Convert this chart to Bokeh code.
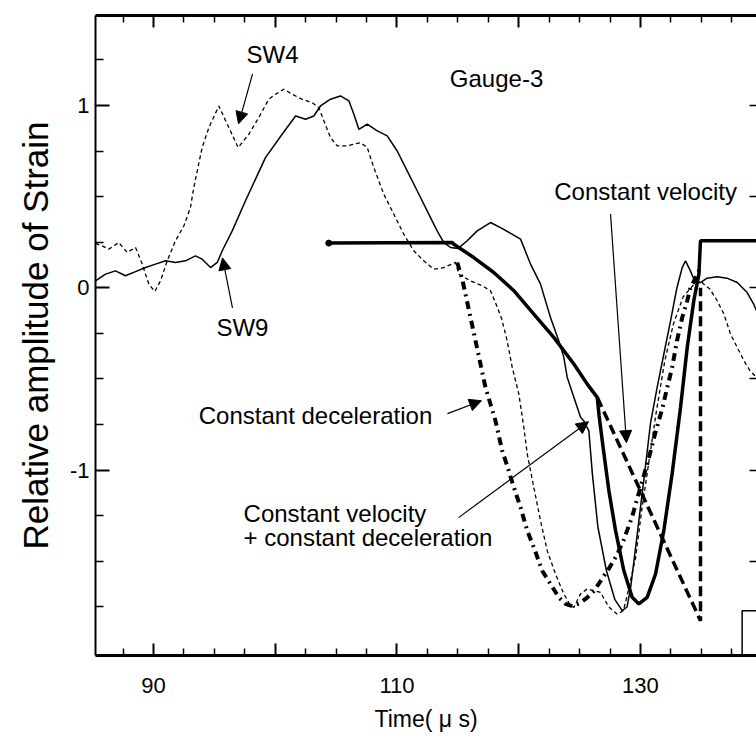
from bokeh.plotting import figure
from bokeh.models import (Range1d, LinearAxis, FixedTicker, Arrow, NormalHead, ColumnDataSource,
                          CustomLabelingPolicy)
from bokeh.core.properties import value
from bokeh.embed import file_html
from bokeh.resources import INLINE

# ---- experimental strain records (time in microseconds, relative amplitude) ----
sw4_t = [85.24, 85.79, 86.33, 87.15, 87.84, 88.53, 89.08, 89.62, 90.11, 90.58, 91.13, 91.81, 92.5, 93.04,
         93.31, 94.0, 94.55, 95.37, 96.06, 96.96, 97.83, 98.65, 99.47, 100.02, 100.7, 101.4, 102.2, 103.04,
         103.58, 104.0, 104.54, 105.09, 105.91, 107.0, 107.56, 108.1, 108.92, 109.74, 110.56, 111.38, 112.2,
         113.03, 113.85, 114.81, 115.08, 116.04, 117.0, 117.68, 118.2, 118.6, 119.05, 119.47, 120.01, 120.42,
         120.7, 121.24, 121.79, 122.34, 123.02, 123.7, 124.25, 124.53, 125.08, 125.63, 126.17, 126.72, 127.4,
         128.1, 128.6, 129.0, 129.6, 130.1, 130.7, 131.3, 132.0, 132.7, 133.5, 134.4, 134.93, 135.2, 135.7,
         136.3, 136.85, 137.4, 137.95, 138.5, 139.0, 139.53]
sw4_y = [0.243, 0.23, 0.212, 0.248, 0.194, 0.221, 0.13, 0.02, -0.02, 0.038, 0.148, 0.258, 0.34, 0.44,
         0.55, 0.769, 0.878, 0.997, 0.897, 0.769, 0.842, 0.933, 1.034, 1.061, 1.089, 1.061, 1.034, 1.015,
         0.988, 0.915, 0.824, 0.778, 0.778, 0.796, 0.769, 0.659, 0.513, 0.404, 0.294, 0.203, 0.148,
         0.102, 0.111, 0.139, 0.075, 0.038, 0.011, -0.016, -0.1, -0.17, -0.29, -0.437, -0.582, -0.765,
         -0.911, -1.094, -1.277, -1.441, -1.569, -1.678, -1.742, -1.752, -1.678, -1.651, -1.66, -1.67, -1.75,
         -1.79, -1.77, -1.66, -1.48, -1.22, -0.95, -0.68, -0.40, -0.2, -0.05, 0.02, 0.038, 0.02, -0.007,
         -0.071, -0.144, -0.254, -0.327, -0.4, -0.455, -0.49]

sw9_t = [85.24, 86.06, 86.88, 87.70, 88.53, 89.35, 90.17, 90.99, 91.81, 92.63, 93.45, 94.0, 94.69, 95.24,
         95.65, 96.47, 97.56, 99.2, 100.57, 101.67, 102.49, 103.17, 103.72, 104.54, 105.36, 106.05, 106.46,
         106.87, 107.56, 108.38, 109.2, 110.02, 110.84, 111.66, 112.48, 113.3, 113.85, 114.4, 115.0, 115.77,
         116.59, 117.68, 118.5, 119.3, 120.15, 120.97, 121.79, 122.61, 123.29, 123.7, 123.98, 124.53, 125.08,
         125.35, 125.76, 126.05, 126.5, 127.2, 127.9, 128.5, 128.9, 129.2, 129.7, 130.3, 130.83, 131.37,
         131.92, 132.47, 133.0, 133.43, 133.7, 134.1, 134.5, 134.93, 135.47, 136.3, 137.1, 137.95, 138.76,
         139.3, 139.53]
sw9_y = [0.038, 0.075, 0.093, 0.066, 0.089, 0.111, 0.13, 0.148, 0.139, 0.148, 0.175, 0.157, 0.111, 0.139,
         0.203, 0.312, 0.477, 0.714, 0.842, 0.942, 0.924, 0.942, 0.997, 1.034, 1.052, 1.025, 0.951,
         0.869, 0.897, 0.86, 0.833, 0.75, 0.641, 0.532, 0.422, 0.312, 0.248, 0.221, 0.215, 0.258,
         0.312, 0.358, 0.33, 0.30, 0.267, 0.13, 0.02, -0.163, -0.29, -0.38, -0.49, -0.60, -0.71,
         -0.73, -0.784, -1.02, -1.31, -1.55, -1.71, -1.77, -1.75, -1.64, -1.37, -1.04, -0.74, -0.546,
         -0.363, -0.181, 0.002, 0.111, 0.148, 0.093, 0.029, 0.029, 0.053, 0.06, 0.053, 0.029, -0.026,
         -0.09, -0.126]

# ---- calculated strain for three models ----
cvcd_t = [104.4, 114.54, 114.67, 116.31, 117.95, 119.6, 121.24, 122.88, 124.53, 125.63, 126.45, 126.6,
          126.86, 127.4, 127.95, 128.63, 129.32, 129.87, 130.55, 131.24, 131.92, 132.6, 133.29, 133.84,
          134.38, 134.8, 134.93, 139.53]
cvcd_y = [0.245, 0.248, 0.239, 0.166, 0.084, -0.016, -0.144, -0.272, -0.418, -0.528, -0.601, -0.70,
          -0.838, -1.11, -1.33, -1.55, -1.697, -1.733, -1.697, -1.569, -1.33, -1.02, -0.656, -0.327,
          -0.071, 0.075, 0.258, 0.258]

cv_t = [126.47, 134.93, 134.93]
cv_y = [-0.603, -1.825, 0.0]

cd_t = [114.95, 115.36, 115.63, 116.04, 116.45, 116.86, 117.27, 117.68, 118.09, 118.64, 119.05, 119.47,
        120.15, 120.7, 121.24, 121.93, 122.61, 123.29, 123.84, 124.4, 125.0, 125.6, 126.2, 126.8, 127.4,
        128.1, 128.6, 129.3, 130.0, 130.7, 131.2, 131.8, 132.2, 132.6, 133.0, 133.43, 133.84, 134.1,
        134.5, 134.85]
cd_y = [0.139, 0.048, -0.035, -0.163, -0.29, -0.418, -0.546, -0.637, -0.729, -0.893, -0.975, -1.067,
        -1.204, -1.332, -1.423, -1.551, -1.624, -1.697, -1.733, -1.745, -1.73, -1.70, -1.66, -1.60, -1.54,
        -1.46, -1.386, -1.259, -1.094, -0.93, -0.80, -0.66, -0.546, -0.437, -0.29, -0.163, -0.071, 0.0,
        0.05, 0.1]

trig_t = [138.35, 138.35, 139.53]
trig_y = [-2.016, -1.77, -1.77]

# ---- axes ----
x_major = [90, 100, 110, 120, 130]
x_minor = [87.5, 92.5, 95, 97.5, 102.5, 105, 107.5, 112.5, 115, 117.5, 122.5, 125, 127.5, 132.5, 135, 137.5]
x_labels = {90: "90", 100: "", 110: "110", 120: "", 130: "130"}
y_major = [-1, 0, 1]
y_minor = [-1.75, -1.5, -1.25, -0.75, -0.5, -0.25, 0.25, 0.5, 0.75, 1.25]
y_labels = {-1: "-1", 0: "0", 1: "1"}
y_right = [-1.5, -1, -0.5, 0, 0.5, 1]

# ---- annotations ----
lab_text = ["SW4", "Gauge-3", "Constant velocity", "SW9", "Constant deceleration"]
lab_x = [99.78, 118.18, 130.42, 97.31, 103.31]
lab_y = [1.277, 1.150, 0.526, -0.219, -0.701]
lab2_text = ["Constant velocity", "+ constant deceleration"]
lab2_x = [97.40, 97.40]
lab2_y = [-1.238, -1.370]
arrows = [  # x_start, y_start, x_end, y_end
    (98.14, 1.173, 96.99, 0.899),
    (96.49, -0.110, 95.67, 0.164),
    (114.15, -0.690, 116.94, -0.619),
    (115.06, -1.260, 125.73, -0.734),
    (127.54, 0.405, 128.85, -0.849),
]

FONT = "Liberation Sans"
NO_LABELS = CustomLabelingPolicy(code="""
    for (const i of indices) { indices.unset(i) }
    return indices
""")

p = figure(width=756, height=746, output_backend="svg", toolbar_location=None,
           x_range=Range1d(85.24, 139.53), y_range=Range1d(-2.016, 1.493),
           min_border_left=95, min_border_right=0, min_border_top=15, min_border_bottom=91)
p.grid.visible = False
p.outline_line_color = None
p.background_fill_color = "white"
p.border_fill_color = "white"

xa = p.xaxis[0]
xa.ticker = FixedTicker(ticks=x_major, minor_ticks=x_minor)
xa.major_label_overrides = x_labels
xa.major_tick_in = 12
xa.major_tick_out = 0
xa.minor_tick_in = 7
xa.minor_tick_out = 0
xa.axis_line_width = 3
xa.major_tick_line_width = 2
xa.minor_tick_line_width = 1.5
xa.major_label_standoff = 22
xa.major_label_text_font = FONT
xa.major_label_text_font_size = "22px"
xa.major_label_text_color = "black"
xa.axis_label = "Time( \u03bc s)"
xa.axis_label_text_font = FONT
xa.axis_label_text_font_size = "23px"
xa.axis_label_text_font_style = "normal"
xa.axis_label_text_color = "black"
xa.axis_label_standoff = 10

ya = p.yaxis[0]
ya.ticker = FixedTicker(ticks=y_major, minor_ticks=y_minor)
ya.major_label_overrides = y_labels
ya.major_tick_in = 14
ya.major_tick_out = 0
ya.minor_tick_in = 8
ya.minor_tick_out = 0
ya.axis_line_width = 2
ya.major_tick_line_width = 2
ya.minor_tick_line_width = 1.5
ya.major_label_standoff = 6
ya.major_label_text_font = FONT
ya.major_label_text_font_size = "22px"
ya.major_label_text_color = "black"
ya.axis_label = "Relative amplitude of Strain"
ya.axis_label_text_font = FONT
ya.axis_label_text_font_size = "35px"
ya.axis_label_text_font_style = "normal"
ya.axis_label_text_color = "black"
ya.axis_label_standoff = 12

top = LinearAxis(ticker=FixedTicker(ticks=x_major, minor_ticks=x_minor),
                 major_tick_in=12, major_tick_out=0, minor_tick_in=7, minor_tick_out=0,
                 axis_line_width=3, major_tick_line_width=2, minor_tick_line_width=1.5,
                 major_label_policy=NO_LABELS, major_label_text_font_size="0px",
                 major_label_standoff=0, axis_label_standoff=0)
p.add_layout(top, "above")

right = LinearAxis(ticker=FixedTicker(ticks=y_right, minor_ticks=[]),
                   major_tick_in=7, major_tick_out=0, minor_tick_in=0, minor_tick_out=0,
                   axis_line_color=None, axis_line_width=0, major_tick_line_width=1.5,
                   major_label_policy=NO_LABELS, major_label_text_font_size="0px",
                   major_label_standoff=0, axis_label_standoff=0)
p.add_layout(right, "right")

# ---- curves ----
p.line(sw4_t, sw4_y, line_color="black", line_width=1.3, line_dash="4 3")
p.line(sw9_t, sw9_y, line_color="black", line_width=1.5)
p.line(cd_t, cd_y, line_color="black", line_width=4, line_dash="8 5 2 5")
p.line(cv_t, cv_y, line_color="black", line_width=3.5, line_dash="10 5")
p.line(cvcd_t, cvcd_y, line_color="black", line_width=3.5)
p.scatter([cvcd_t[0]], [cvcd_y[0]], size=6, color="black")
p.line(trig_t, trig_y, line_color="black", line_width=1.5)

# ---- labels ----
src1 = ColumnDataSource(dict(x=lab_x, y=lab_y, t=lab_text))
p.text(x="x", y="y", text="t", source=src1, text_font=value(FONT), text_font_size="24px",
       text_align="center", text_baseline="middle", text_color="black")
src2 = ColumnDataSource(dict(x=lab2_x, y=lab2_y, t=lab2_text))
p.text(x="x", y="y", text="t", source=src2, text_font=value(FONT), text_font_size="24px",
       text_align="left", text_baseline="middle", text_color="black")

for xs, ys, xe, ye in arrows:
    p.add_layout(Arrow(end=NormalHead(size=12, fill_color="black", line_color="black", line_width=1),
                       x_start=xs, y_start=ys, x_end=xe, y_end=ye,
                       line_color="black", line_width=1.2))

open("out.html", "w").write(file_html(p, INLINE))
